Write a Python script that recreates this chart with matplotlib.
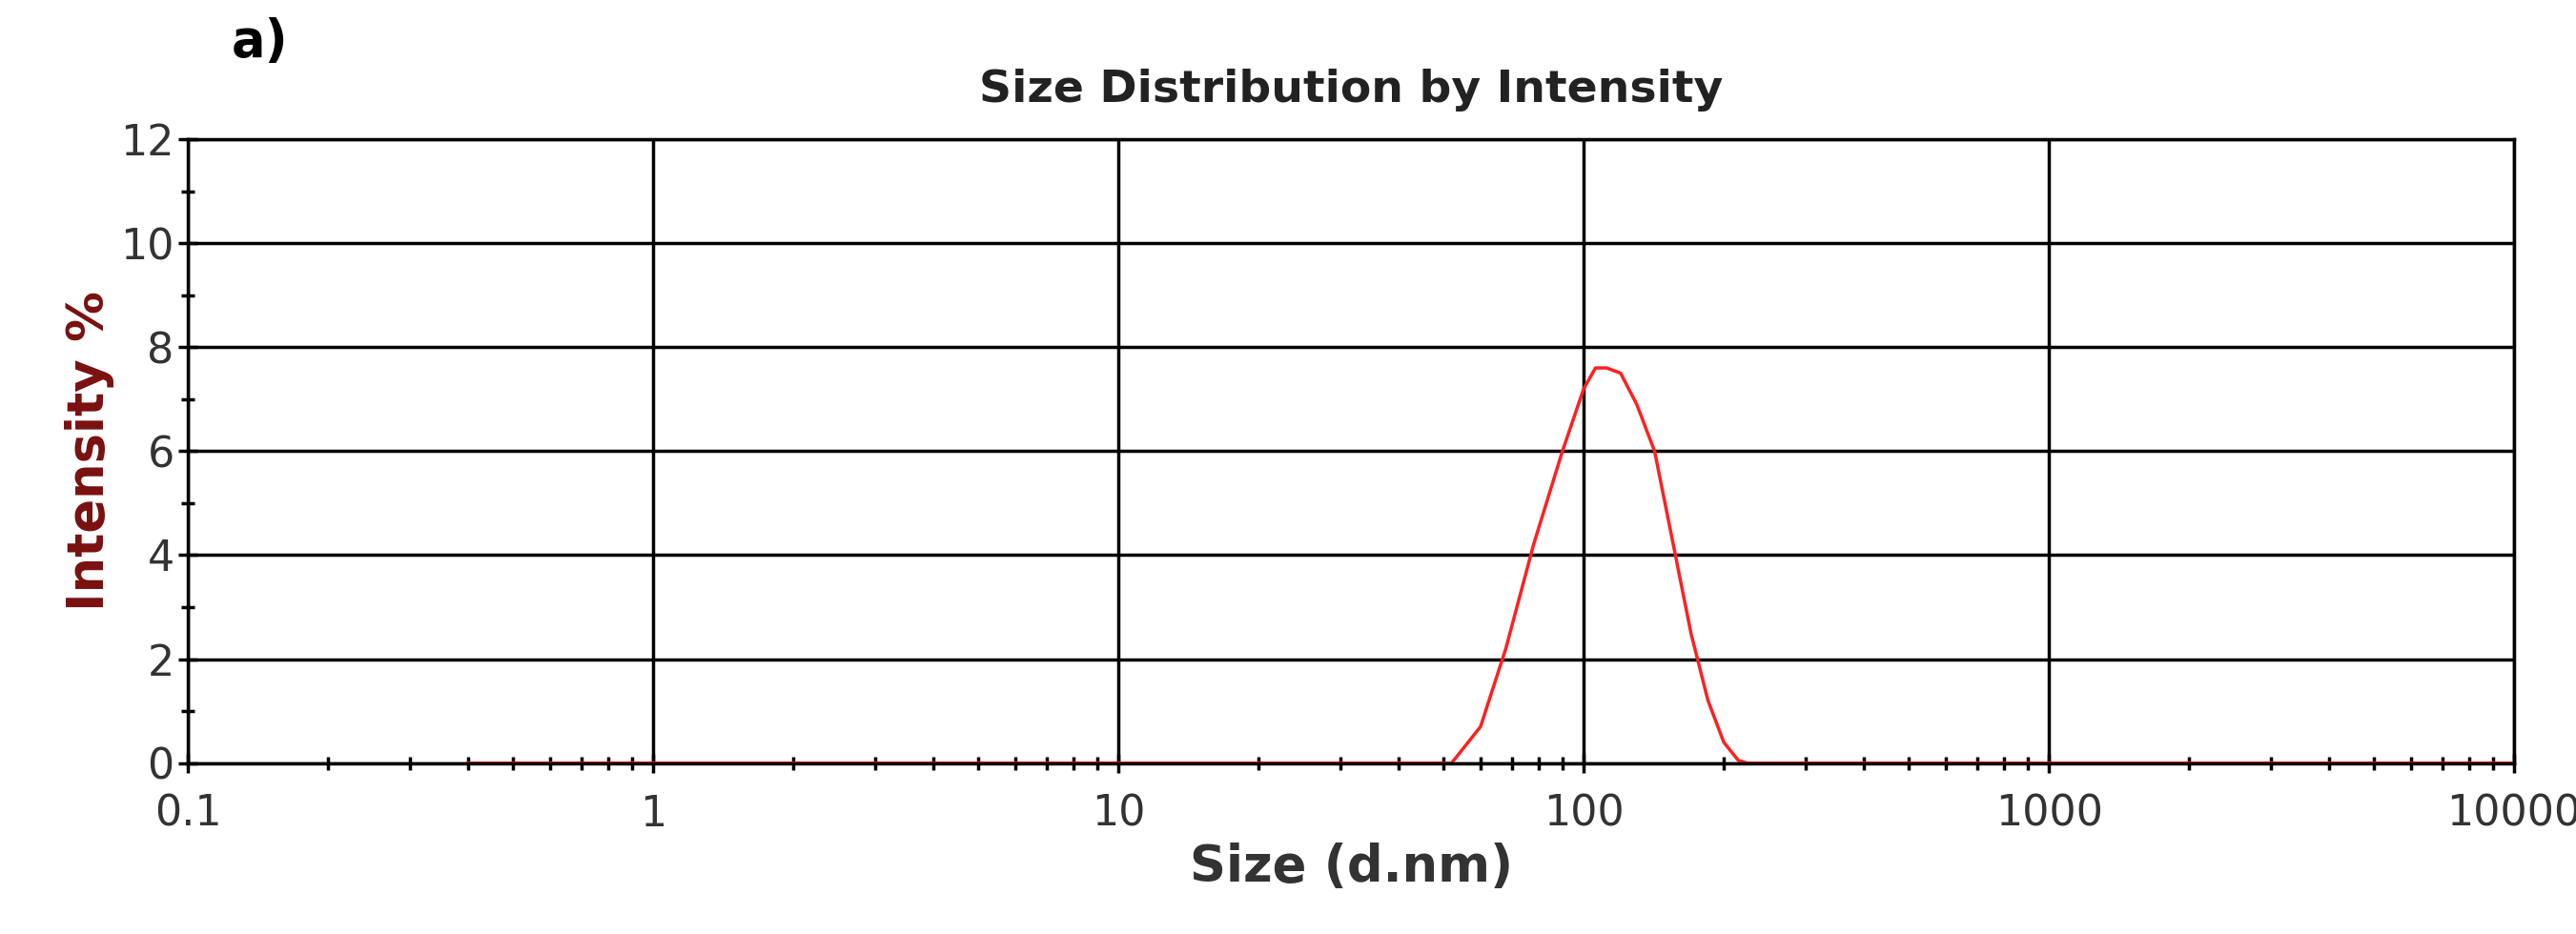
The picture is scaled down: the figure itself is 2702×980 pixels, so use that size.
import numpy as np
import matplotlib
matplotlib.use("Agg")
import matplotlib.pyplot as plt
from matplotlib.ticker import LogLocator, FixedLocator, NullFormatter

# ─── DATA ──────────────────────────────────────────────────────────────────
SIZE_NM = [0.4, 1, 10, 40, 52, 60, 68, 78, 90, 100, 106, 112, 120, 130, 142,
           155, 170, 185, 200, 215, 225, 1000, 10000]
INTENSITY = [0, 0, 0, 0, 0, 0.7, 2.2, 4.2, 6.0, 7.2, 7.6, 7.6, 7.5, 6.9, 6.0,
             4.3, 2.5, 1.2, 0.4, 0.05, 0, 0, 0]
X_TICKS = [0.1, 1, 10, 100, 1000, 10000]
X_LABELS = ["0.1", "1", "10", "100", "1000", "10000"]
Y_TICKS = [0, 2, 4, 6, 8, 10, 12]

fig = plt.figure(figsize=(27.02, 9.80), dpi=100)
ax = fig.add_axes([0.073, 0.183, 0.903, 0.668])

ax.plot(SIZE_NM, INTENSITY, color="#ff2020", lw=2.5)
ax.set_xscale("log")
ax.set_xlim(0.1, 10000)
ax.set_ylim(0, 12)

ax.set_xticks(X_TICKS)
ax.set_xticklabels(X_LABELS)
ax.xaxis.set_minor_locator(LogLocator(base=10, subs=np.arange(2, 10)))
ax.xaxis.set_minor_formatter(NullFormatter())
ax.set_yticks(Y_TICKS)
ax.yaxis.set_minor_locator(FixedLocator(np.arange(1, 12, 1)))

ax.grid(True, which="major", color="black", lw=2.5)
for s in ax.spines.values():
    s.set_linewidth(2.5)
ax.tick_params(which="both", direction="inout", width=2.5, colors="black",
               labelsize=32, labelcolor="#333333")
ax.tick_params(which="major", length=14)
ax.tick_params(which="minor", length=10)
ax.tick_params(axis="x", which="major", pad=16)

ax.set_xlabel("Size (d.nm)", fontsize=38, fontweight="bold", color="#333333",
              labelpad=6)
ax.set_ylabel("Intensity %", fontsize=38, fontweight="bold", color="#7a1010")
ax.set_title("Size Distribution by Intensity", fontsize=34, fontweight="bold",
             color="#222222", pad=28)
fig.text(0.09, 0.955, "a)", fontsize=38, fontweight="bold", va="center")

fig.savefig("out.png", dpi=100)
